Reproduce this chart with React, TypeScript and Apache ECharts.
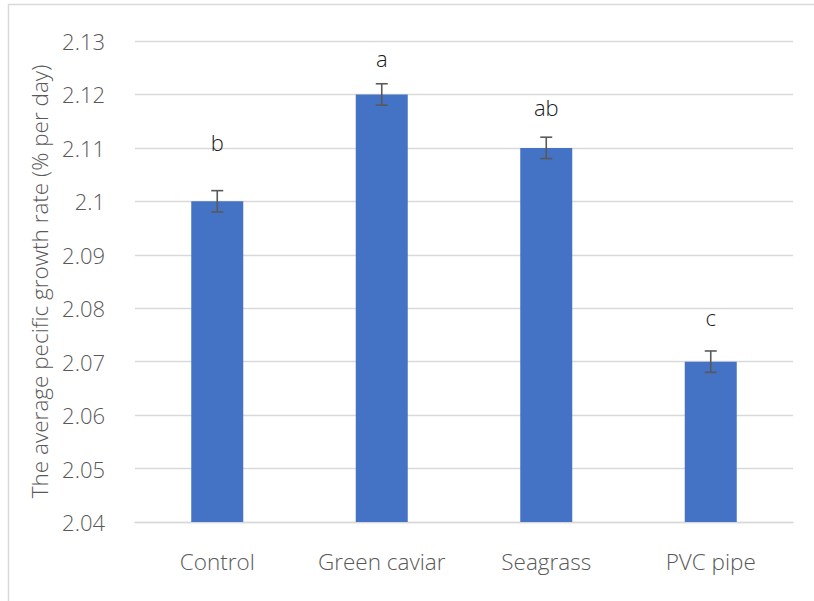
import React, { useEffect, useRef } from "react";
import * as echarts from "echarts";

const categories = ["Control", "Green caviar", "Seagrass", "PVC pipe"];
const values = [2.1, 2.12, 2.11, 2.07];
const errors = [0.002, 0.002, 0.002, 0.002];
const letters = ["b", "a", "ab", "c"];
const yMin = 2.04;
const yMax = 2.13;
const yInterval = 0.01;

// label gap above each bar (style only, in px)
const letterGap = [48, 25, 30, 34];

const FONT = "Open Sans";
const WEIGHT = 300;

export default function App() {
  const ref = useRef<HTMLDivElement>(null);
  useEffect(() => {
    if (!ref.current) return;
    const chart = echarts.init(ref.current, undefined, { renderer: "svg" });
    const errData = values.map((v, i) => [i, v - errors[i], v + errors[i]]);
    const barData = values.map((v, i) => ({
      value: v,
      label: { distance: letterGap[i] },
    }));
    chart.setOption({
      animation: false,
      backgroundColor: "#ffffff",
      textStyle: { fontFamily: FONT, fontWeight: WEIGHT },
      graphic: [
        {
          type: "polyline",
          shape: { points: [[8.5, 601], [8.5, 4.5], [814, 4.5]] },
          style: { stroke: "#d9d9d9", lineWidth: 1.5, fill: "none" },
          silent: true,
        },
      ],
      grid: { left: 135, right: 21, top: 41, bottom: 79 },
      xAxis: {
        type: "category",
        data: categories,
        axisLine: { show: true, lineStyle: { color: "#d9d9d9", width: 1.3 } },
        axisTick: { show: false },
        axisLabel: {
          color: "#595959",
          fontSize: 22.5,
          margin: 28,
          interval: 0,
          hideOverlap: false,
          fontFamily: FONT,
          fontWeight: WEIGHT,
        },
      },
      yAxis: {
        type: "value",
        min: yMin,
        max: yMax,
        interval: yInterval,
        name: "The average pecific growth rate (% per day)",
        nameLocation: "middle",
        nameGap: 84,
        nameTextStyle: { color: "#595959", fontSize: 22.5, fontFamily: FONT, fontWeight: WEIGHT },
        axisLine: { show: false },
        axisTick: { show: false },
        splitLine: { lineStyle: { color: "#d9d9d9", width: 1.3 } },
        axisLabel: {
          color: "#595959",
          fontSize: 22,
          margin: 30,
          fontFamily: FONT,
          fontWeight: WEIGHT,
          formatter: (v: number) => String(parseFloat(v.toFixed(2))),
        },
      },
      series: [
        {
          type: "bar",
          data: barData,
          barWidth: 52,
          itemStyle: { color: "#4472C4" },
          label: {
            show: true,
            position: "top",
            color: "#1a1a1a",
            fontSize: 22,
            fontFamily: FONT,
            fontWeight: WEIGHT,
            formatter: (p: any) => letters[p.dataIndex],
          },
          z: 2,
        },
        {
          type: "custom",
          data: errData,
          z: 5,
          renderItem: (params: any, api: any) => {
            const x = api.coord([api.value(0), api.value(1)])[0];
            const yLo = api.coord([api.value(0), api.value(1)])[1];
            const yHi = api.coord([api.value(0), api.value(2)])[1];
            const hw = 6;
            const style = { stroke: "#595959", lineWidth: 1.6 };
            return {
              type: "group",
              children: [
                { type: "line", shape: { x1: x, y1: yLo, x2: x, y2: yHi }, style },
                { type: "line", shape: { x1: x - hw, y1: yHi, x2: x + hw, y2: yHi }, style },
                { type: "line", shape: { x1: x - hw, y1: yLo, x2: x + hw, y2: yLo }, style },
              ],
            };
          },
        },
      ],
    });
    return () => chart.dispose();
  }, []);
  return (
    <div
      ref={ref}
      style={{ position: "absolute", left: 0, top: 0, width: 814, height: 601 }}
    />
  );
}
